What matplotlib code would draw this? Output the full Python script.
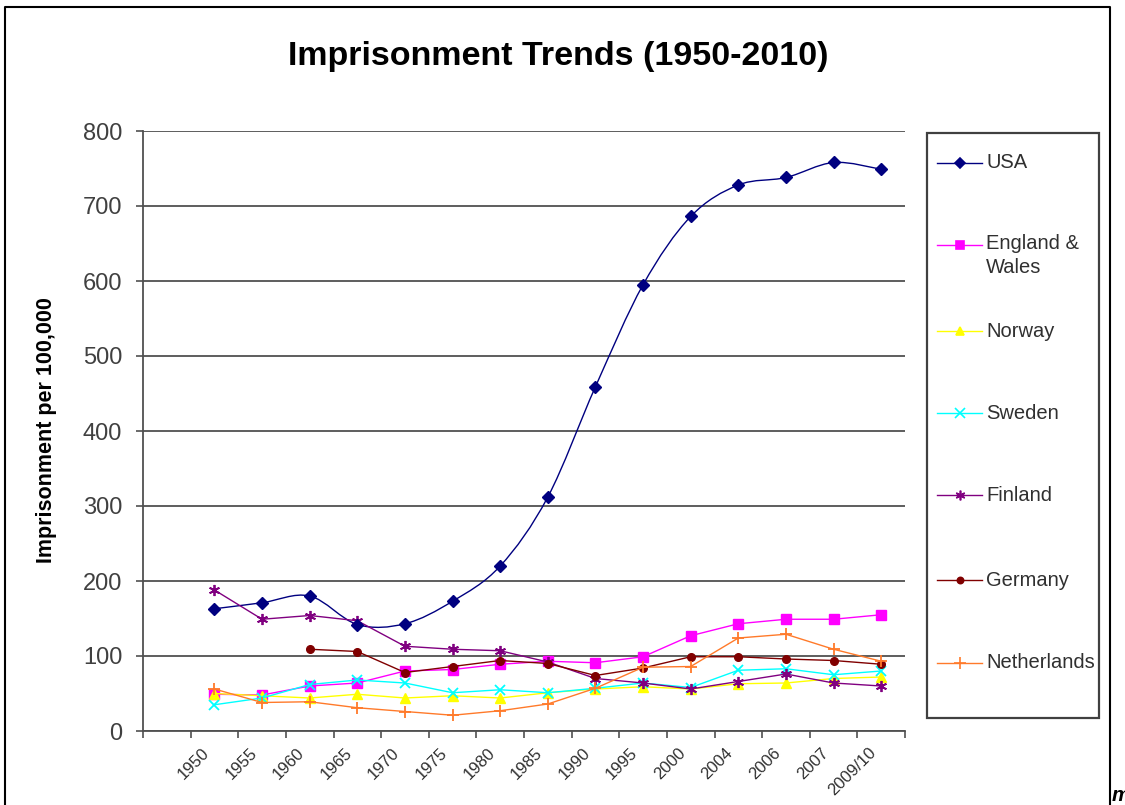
import matplotlib.pyplot as plt
import matplotlib.transforms as mtransforms
from matplotlib.lines import Line2D
from matplotlib.patches import Rectangle, PathPatch
from matplotlib.path import Path
import numpy as np

plt.rcParams['font.family'] = ['Liberation Sans', 'DejaVu Sans']

years = ['1950', '1955', '1960', '1965', '1970', '1975', '1980', '1985',
         '1990', '1995', '2000', '2004', '2006', '2007', '2009/10']

usa = [163, 171, 180, 142, 143, 173, 220, 312, 459, 595, 686, 728, 738, 758, 749]
england = [49, 48, 60, 64, 80, 82, 89, 93, 91, 99, 127, 143, 149, 149, 155]
norway = [50, 47, 44, 49, 44, 47, 44, 51, 56, 59, 56, 63, 64, 70, 72]
sweden = [35, 44, 62, 68, 64, 51, 55, 51, 57, 64, 58, 81, 83, 75, 80]
finland = [188, 149, 154, 147, 113, 109, 107, 92, 70, 64, 56, 66, 76, 64, 60]
germany = [None, None, 109, 106, 78, 86, 94, 90, 74, 84, 99, 99, 96, 94, 89]
netherlands = [56, 38, 39, 31, 26, 21, 27, 36, 57, 85, 86, 124, 129, 109, 93]

names = ['USA', 'England &\nWales', 'Norway', 'Sweden', 'Finland', 'Germany', 'Netherlands']
series = [usa, england, norway, sweden, finland, germany, netherlands]
colors = ['#000080', '#FF00FF', '#FFFF00', '#00FFFF', '#800080', '#800000', '#FF7A2A']
markers = ['D', 's', '^', 'x', (6, 2, 0), 'o', '+']
msizes = [6, 6.5, 7, 7.5, 8, 5.5, 9]

W, H = 1125, 805


def fx(px):
    return px / W


def fy(py):
    return 1 - py / H


fig = plt.figure(figsize=(W / 100, H / 100), dpi=100)
ax = fig.add_axes([fx(143), fy(731), fx(905) - fx(143), fy(131) - fy(731)])

x = np.arange(1, len(years) + 1)

for i, (vals, c, m, ms) in enumerate(zip(series, colors, markers, msizes)):
    xs = [xx for xx, v in zip(x, vals) if v is not None]
    ys = [v for v in vals if v is not None]
    if i == 0:
        # smoothed line like excel
        verts = [(xs[0], ys[0])]
        codes = [Path.MOVETO]
        n = len(xs)
        for k in range(n - 1):
            p0 = np.array([xs[max(k - 1, 0)], ys[max(k - 1, 0)]], float)
            p1 = np.array([xs[k], ys[k]], float)
            p2 = np.array([xs[k + 1], ys[k + 1]], float)
            p3 = np.array([xs[min(k + 2, n - 1)], ys[min(k + 2, n - 1)]], float)
            c1 = p1 + (p2 - p0) / 6
            c2 = p2 - (p3 - p1) / 6
            verts += [tuple(c1), tuple(c2), tuple(p2)]
            codes += [Path.CURVE4] * 3
        ax.add_patch(PathPatch(Path(verts, codes), facecolor='none', edgecolor=c, lw=1.0, zorder=3))
        ax.plot(xs, ys, linestyle='none', marker=m, color=c, markersize=ms, zorder=4)
    else:
        mew = 1.3 if m in ('x', '+') or isinstance(m, tuple) else 1
        ax.plot(xs, ys, color=c, lw=1.0, marker=m, markersize=ms, markeredgewidth=mew, zorder=3)

ax.set_xlim(-0.5, 15.5)
ax.set_ylim(0, 800)
ax.set_yticks(range(0, 801, 100))
ax.grid(axis='y', color='#505050', lw=1.3)
ax.set_axisbelow(True)

ax.set_xticks(np.arange(-0.5, 15.6, 1), minor=True)
ax.set_xticks(x)
ax.set_xticklabels(years, rotation=45, ha='right', rotation_mode='anchor', fontsize=12, color='#303030')
ax.tick_params(axis='x', which='major', length=0, pad=10)
ax.tick_params(axis='x', which='minor', length=5, width=1.2, color='#505050')
ax.tick_params(axis='y', length=5, width=1.2, color='#505050', labelsize=17, labelcolor='#404040', pad=10)
offset = mtransforms.ScaledTranslation(-0.13, 0, fig.dpi_scale_trans)
for lab in ax.get_xticklabels():
    lab.set_transform(lab.get_transform() + offset)

for s in ['top', 'right']:
    ax.spines[s].set_visible(False)
for s in ['left', 'bottom']:
    ax.spines[s].set_color('#505050')
    ax.spines[s].set_linewidth(1.3)

fig.text(fx(558), fy(57), 'Imprisonment Trends (1950-2010)', ha='center', va='center',
         fontsize=24.5, fontweight='bold', color='black')
fig.text(fx(47), fy(430), 'Imprisonment per 100,000', ha='center', va='center',
         rotation=90, fontsize=15.5, fontweight='bold', color='black')

# legend drawn by hand
fig.add_artist(Rectangle((fx(927), fy(718)), fx(1099) - fx(927), fy(133) - fy(718),
                         transform=fig.transFigure, facecolor='white', edgecolor='#404040', lw=1.6))
leg_y = [163, 245, 331, 413, 495, 580, 663]
for name, c, m, ms, py in zip(names, colors, markers, msizes, leg_y):
    fig.add_artist(Line2D([fx(937), fx(982)], [fy(py), fy(py)], color=c, lw=1.0,
                          transform=fig.transFigure))
    fig.add_artist(Line2D([fx(959.5)], [fy(py)], color=c, marker=m, markersize=ms - 1,
                          markeredgewidth=1.2, transform=fig.transFigure))
    if '\n' in name:
        fig.text(fx(986), fy(py - 11), name, ha='left', va='top', fontsize=14.5,
                 color='#303030', linespacing=1.35)
    else:
        fig.text(fx(986), fy(py), name, ha='left', va='center', fontsize=14.5, color='#303030')

# outer frame
fig.add_artist(Line2D([fx(5), fx(5), fx(1110), fx(1110)], [0, fy(7), fy(7), 0],
                      color='black', lw=1.5, transform=fig.transFigure))
fig.text(fx(1112), fy(801), 'm', fontsize=15, fontweight='bold', fontstyle='italic',
         ha='left', va='baseline')

fig.savefig('out.png', dpi=100)
